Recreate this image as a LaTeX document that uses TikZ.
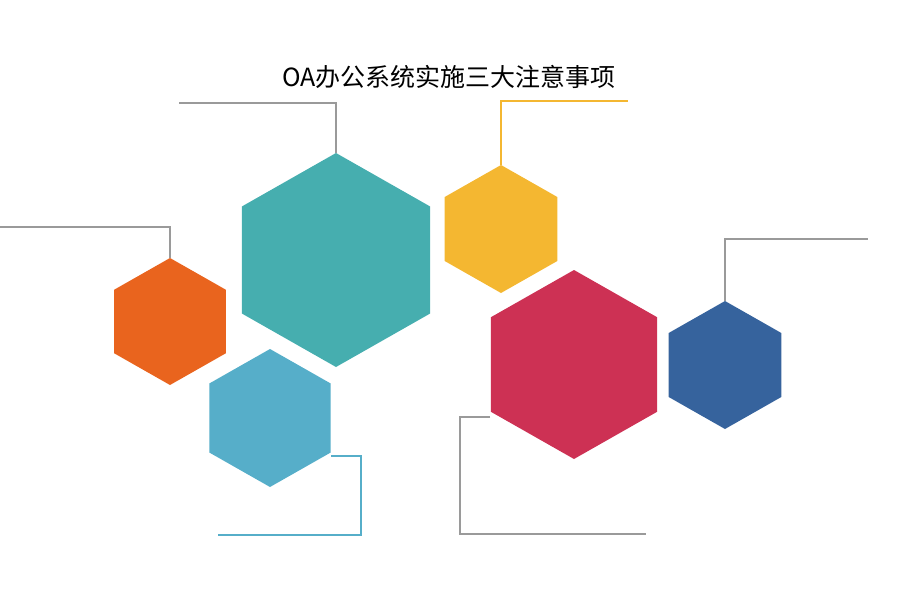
\documentclass[tikz,border=0pt]{standalone}
\usepackage{fontspec}
\newfontfamily\cjk{Noto Sans CJK SC}
\definecolor{teal1}{HTML}{46AEAF}
\definecolor{org}{HTML}{E9641E}
\definecolor{lblue}{HTML}{56AEC9}
\definecolor{yel}{HTML}{F4B731}
\definecolor{red1}{HTML}{CD3154}
\definecolor{dblue}{HTML}{36639D}
\definecolor{gline}{HTML}{9A9A9A}
\tikzset{conn/.style={line width=1pt}}
\newcommand{\hexa}[5]{% name, cx, cy, hh, color
  \pgfmathsetmacro{\hw}{0.88*#4}
  \fill[#5] (#2,#3-#4) coordinate (#1top) -- (#2+\hw,#3-#4/2) -- (#2+\hw,#3+#4/2) coordinate (#1rb) -- (#2,#3+#4) -- (#2-\hw,#3+#4/2) -- (#2-\hw,#3-#4/2) coordinate (#1lt) -- cycle;
}
\begin{document}
\begin{tikzpicture}[x=0.5pt,y=-0.5pt]
\useasboundingbox (0,0) rectangle (900,600);
\hexa{t}{336}{260}{107}{teal1}
\hexa{o}{170}{321.5}{63.5}{org}
\hexa{l}{270}{418}{69}{lblue}
\hexa{y}{501}{229}{64}{yel}
\hexa{r}{574}{364.5}{94.5}{red1}
\hexa{b}{725}{365}{64}{dblue}
\node[font=\cjk\fontsize{12.5}{14}\selectfont] (title) at (449,77) {OA办公系统实施三大注意事项};
\coordinate (te) at (179,103);
\coordinate (ye) at (628,101);
\coordinate (oe) at (0,227);
\coordinate (be) at (868,239);
\coordinate (le) at (218,535);
\coordinate (re) at (646,534);
\draw[conn,gline] (ttop) |- (te);
\draw[conn,yel] (ytop) |- (ye);
\draw[conn,gline] (otop) |- (oe);
\draw[conn,gline] (btop) |- (be);
\draw[conn,lblue] (331,456) -- (361,456) |- (le);
\draw[conn,gline] (490,417) -- (460,417) |- (re);
\end{tikzpicture}
\end{document}
